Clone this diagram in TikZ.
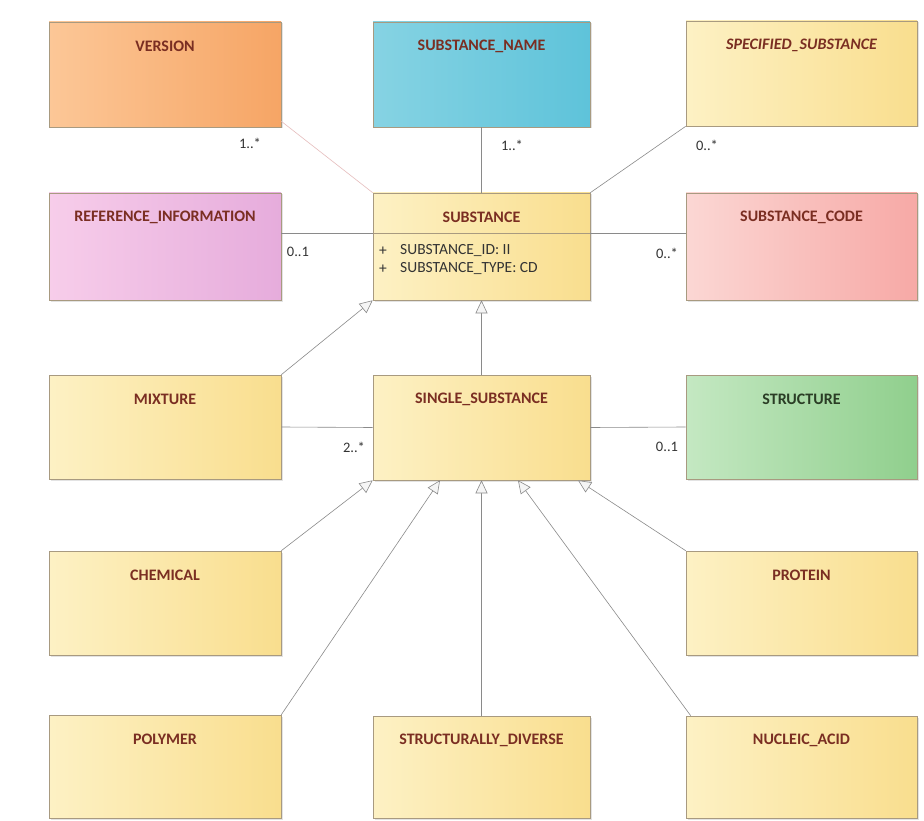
\documentclass[tikz,border=0pt]{standalone}
\usepackage{fontspec}
\setmainfont{Carlito}
\usetikzlibrary{arrows.meta,shadows,fit,calc}
\definecolor{titlecol}{HTML}{7A2E22}
\definecolor{greentitle}{HTML}{2A3D25}
\definecolor{bordercol}{HTML}{A89A80}
\definecolor{linecol}{HTML}{8A8A8A}
\definecolor{pinkline}{HTML}{E6BDBD}
\definecolor{orA}{HTML}{FCC797}\definecolor{orB}{HTML}{F6A565}
\definecolor{cyA}{HTML}{86D3E3}\definecolor{cyB}{HTML}{5EC3DA}
\definecolor{yeA}{HTML}{FDF1C4}\definecolor{yeB}{HTML}{F9DE8E}
\definecolor{piA}{HTML}{F7CDEA}\definecolor{piB}{HTML}{E6ACDC}
\definecolor{saA}{HTML}{FBD7D4}\definecolor{saB}{HTML}{F7A9A6}
\definecolor{grA}{HTML}{C4E8C2}\definecolor{grB}{HTML}{90CF8D}
\definecolor{multcol}{HTML}{333333}
\tikzset{
  umlbox/.style={draw=bordercol, line width=0.6pt, inner sep=0pt,
    drop shadow={opacity=0.22, shadow xshift=1.5pt, shadow yshift=-1.5pt}},
  boxtitle/.style={font=\fontsize{16}{18}\selectfont\bfseries, text=titlecol, inner sep=0pt},
  attr/.style={font=\fontsize{15.5}{17}\selectfont, text=black!80, inner sep=0pt, anchor=west},
  mult/.style={font=\fontsize{14.5}{16}\selectfont, text=multcol, inner sep=0pt},
  assoc/.style={draw=linecol, line width=0.6pt},
  gen/.style={draw=linecol, line width=0.6pt,
    -{Triangle[open, length=13pt, width=12pt, fill=white!92!gray]}},
}
\newcommand{\ubox}[8]{%
  \node[umlbox, left color=#6, right color=#7, fit={(#2,#3) (#4,#5)}] (#1) {};
  \node[boxtitle] (#1-t) at ([yshift=-25pt]#1.north) {#8};
}
\begin{document}
\begin{tikzpicture}[x=1pt,y=-1pt]
\useasboundingbox[fill=white] (0,0) rectangle (924,821);

% row 1
\ubox{ver}{49}{22}{281}{127}{orA}{orB}{VERSION}
\ubox{sname}{373}{22}{590}{127}{cyA}{cyB}{SUBSTANCE\_NAME}
\ubox{spec}{686}{21}{917}{126}{yeA}{yeB}{\itshape SPECIFIED\_SUBSTANCE}
% row 2
\ubox{ref}{49}{193}{281}{300}{piA}{piB}{REFERENCE\_INFORMATION}
\ubox{sub}{373}{193}{590}{300}{yeA}{yeB}{SUBSTANCE}
\ubox{code}{686}{193}{917}{300}{saA}{saB}{SUBSTANCE\_CODE}
% row 3
\ubox{mix}{49}{375}{281}{479}{yeA}{yeB}{MIXTURE}
\ubox{single}{373}{375}{590}{480}{yeA}{yeB}{SINGLE\_SUBSTANCE}
\ubox{struct}{686}{375}{917}{479}{grA}{grB}{\color{greentitle}STRUCTURE}
% row 4
\ubox{chem}{49}{551}{281}{655}{yeA}{yeB}{CHEMICAL}
\ubox{prot}{686}{551}{917}{655}{yeA}{yeB}{PROTEIN}
% row 5
\ubox{poly}{49}{715}{281}{818}{yeA}{yeB}{POLYMER}
\ubox{sd}{373}{716}{590}{818}{yeA}{yeB}{STRUCTURALLY\_DIVERSE}
\ubox{nuc}{686}{716}{917}{818}{yeA}{yeB}{NUCLEIC\_ACID}

% SUBSTANCE compartment
\coordinate (sepL) at (373,233);
\coordinate (sepR) at (590,233);
\draw[draw=bordercol, line width=0.6pt] (sepL) -- (sepR);
\node[attr] (a1p) at (379,251) {+};
\node[attr] (a1) at (400,251) {SUBSTANCE\_ID: II};
\node[attr] (a2p) at (379,269) {+};
\node[attr] (a2) at (400,269) {SUBSTANCE\_TYPE: CD};

% associations
\draw[draw=pinkline, line width=0.6pt] ([yshift=6pt]ver.south east) -- (sub.north west);
\draw[assoc] (sname.south) -- (sub.north);
\draw[assoc] (spec.south west) -- (sub.north east);
\draw[assoc] (ref.east |- sepL) -- (sepL);
\draw[assoc] (sepR) -- (code.west |- sepR);
\draw[assoc] (mix.east) -- (single.west);
\draw[assoc] (single.east) -- (struct.west);

% generalizations
\draw[gen] (mix.north east) -- (sub.south west);
\draw[gen] (single.north) -- (sub.south);
\draw[gen] (chem.north east) -- (single.south west);
\draw[gen] (poly.north east) -- ([xshift=-41.5pt]single.south);
\draw[gen] (sd.north) -- (single.south);
\draw[gen] ([xshift=5pt]nuc.north west) -- ([xshift=36.5pt]single.south);
\draw[gen] (prot.north west) -- ([xshift=96.5pt]single.south);

% multiplicities
\node[mult] (m1) at (250,143) {1..*};
\node[mult] (m2) at (512,145) {1..*};
\node[mult] (m3) at (707,145) {0..*};
\node[mult] (m4) at (298,252) {0..1};
\node[mult] (m5) at (667,253) {0..*};
\node[mult] (m6) at (354,447) {2..*};
\node[mult] (m7) at (667,447) {0..1};
\end{tikzpicture}
\end{document}
